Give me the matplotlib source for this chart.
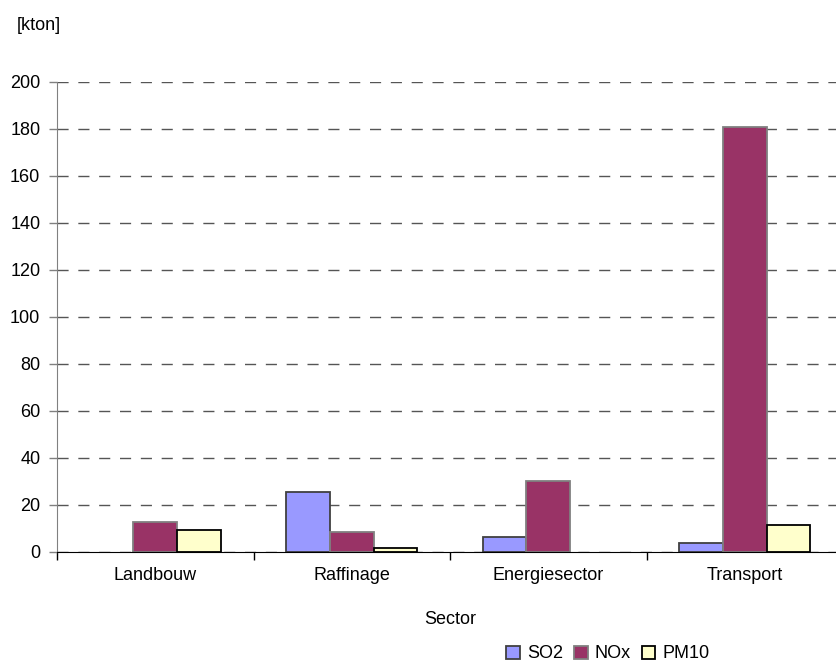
import numpy as np
import matplotlib.pyplot as plt
from matplotlib.ticker import FixedLocator

plt.rcParams['font.family'] = ['Liberation Sans', 'DejaVu Sans']

# emissies per sector (kton)
sectoren = ["Landbouw", "Raffinage", "Energiesector", "Transport"]
so2 = [0, 25.6, 6.3, 3.8]
nox = [12.6, 8.4, 30.2, 181.0]
pm10 = [9.4, 1.6, 0, 11.5]

series = [
    ("SO2", so2, "#9999FF", "#404040"),
    ("NOx", nox, "#993366", "#808080"),
    ("PM10", pm10, "#FFFFCC", "#000000"),
]

fig = plt.figure(figsize=(8.36, 6.66), dpi=100)
ax = fig.add_axes([57 / 836, 114.3 / 666, 786 / 836, 469.7 / 666])

x = np.arange(len(sectoren))
breedte = 1 / 4.5
for i, (naam, waarden, kleur, rand) in enumerate(series):
    # lege balken zonder rand tekenen
    randdikte = [1.3 if w > 0 else 0 for w in waarden]
    ax.bar(x + (i - 1) * breedte, waarden, breedte, color=kleur,
           edgecolor=rand, linewidth=randdikte, zorder=3)
    ax.bar([np.nan], [np.nan], color=kleur, edgecolor=rand, linewidth=1.3, label=naam)

ax.set_xlim(-0.5, len(sectoren) - 0.5)
ax.set_ylim(0, 200)
ax.set_yticks(range(0, 201, 20))
ax.tick_params(axis='y', labelsize=13, length=6, width=1, color="#808080", pad=6)

ax.set_xticks(x)
ax.set_xticklabels(sectoren, fontsize=13)
ax.xaxis.set_minor_locator(FixedLocator(np.arange(-0.5, len(sectoren), 1)))
ax.tick_params(axis='x', which='major', length=0, pad=11)
ax.tick_params(axis='x', which='minor', length=6, width=1, color="#000000")

ax.grid(axis='y', linestyle=(0, (8, 7)), color="#555555", linewidth=1, zorder=0)
ax.spines['top'].set_visible(False)
ax.spines['right'].set_visible(False)
ax.spines['left'].set_color("#808080")
ax.spines['bottom'].set_color("#000000")
ax.spines['bottom'].set_zorder(4)

fig.text(17 / 836, 1 - 25 / 666, "[kton]", fontsize=13, va='center', ha='left')
fig.text(450 / 836, 1 - 619 / 666, "Sector", fontsize=13, va='center', ha='center')

fig.legend(loc='center', bbox_to_anchor=(608 / 836, 1 - 654 / 666), ncol=3,
           frameon=False, fontsize=13, handlelength=0.75, handleheight=0.75,
           handletextpad=0.4, columnspacing=0.6, borderpad=0)

fig.savefig("out.png", dpi=100)
